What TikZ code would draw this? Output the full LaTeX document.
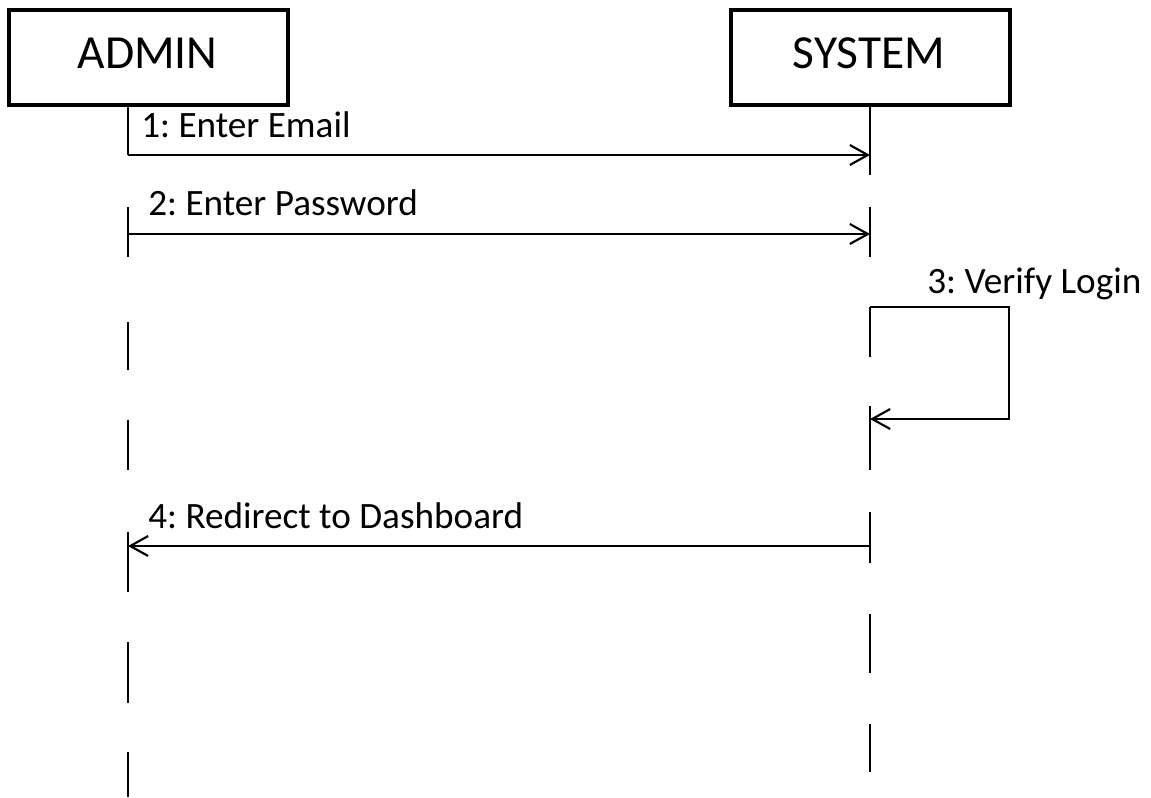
\documentclass[tikz,border=0pt]{standalone}
\usepackage{fontspec}
\setmainfont{Carlito}
\usetikzlibrary{arrows.meta}
\frenchspacing
\tikzset{
  actor/.style={draw, line width=3pt, minimum width=209.25pt, minimum height=71.25pt, inner sep=0pt},
  actorname/.style={anchor=base, inner sep=0pt, font=\fontsize{35.6pt}{40pt}\selectfont},
  lifeline/.style={line width=1.5pt},
  msg/.style={line width=1.5pt, -{Straight Barb[length=13.5pt,width=15pt,line width=1.6pt]}},
  msglabel/.style={anchor=base west, inner sep=0pt, font=\fontsize{27.9pt}{32pt}\selectfont}
}
\begin{document}
\begin{tikzpicture}[x=0.75pt,y=-0.75pt]
\useasboundingbox (0,0) rectangle (1151,797);

% participants
\node[actor] (admin) at (148.5,57.5) {};
\node[actor] (system) at (870,57.5) {};
\node[actorname] (adminlbl) at (147.5,68) {ADMIN};
\node[actorname] (systemlbl) at (869,68) {SYSTEM};

% message end points on the lifelines
\coordinate (a1) at (128,155);
\coordinate (s1) at (870,155);
\coordinate (a2) at (128,234);
\coordinate (s2) at (870,234);
\coordinate (s3a) at (870,307);
\coordinate (s3b) at (870,419);
\coordinate (r3a) at (1009,307);
\coordinate (r3b) at (1009,419);
\coordinate (a4) at (128,546);
\coordinate (s4) at (870,546);

% ADMIN lifeline (broken)
\draw[lifeline] (128,104) -- (a1);
\foreach \ya/\yb in {207/257, 322/370, 420/470, 532/592, 642/703, 752/797}
  \draw[lifeline] (128,\ya) -- (128,\yb);

% SYSTEM lifeline (broken)
\draw[lifeline] (870,104) -- (870,175);
\foreach \ya/\yb in {207/257, 307/357, 406/470, 512/563, 614/673, 724/772}
  \draw[lifeline] (870,\ya) -- (870,\yb);

% messages
\draw[msg] (a1) -- (s1);
\draw[msg] (a2) -- (s2);
\draw[msg] (s3a) -- (r3a) -- (r3b) -- (s3b);
\draw[msg] (s4) -- (a4);

% message labels
\node[msglabel] (m1) at (141,137) {1: Enter Email};
\node[msglabel] (m2) at (148,215) {2: Enter Password};
\node[msglabel] (m3) at (927,293) {3: Verify Login};
\node[msglabel] (m4) at (148,528) {4: Redirect to Dashboard};
\end{tikzpicture}
\end{document}
